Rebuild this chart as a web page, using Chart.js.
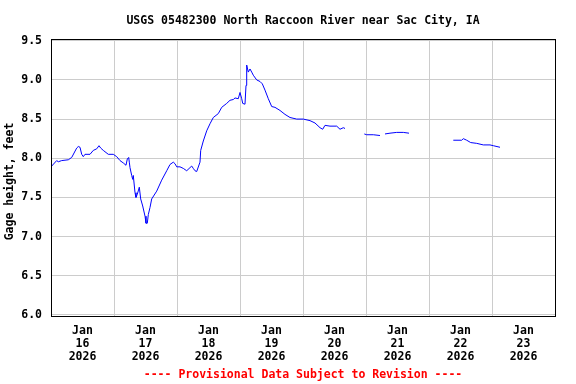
<!DOCTYPE html>
<html>
<head>
<meta charset="utf-8">
<script src="https://cdn.jsdelivr.net/npm/chart.js@4/dist/chart.umd.min.js"></script>
<style>
html,body{margin:0;padding:0;background:#fff;}
canvas{display:block;}
</style>
</head>
<body>
<canvas id="c" width="576" height="384"></canvas>
<script>
// Hours since Jan 16 2026 00:00 (null gage = data gap)
const hours = [
  0.27, 2.17, 2.78, 4.08, 6.59, 7.89, 9.79, 10.4, 11.05, 11.7, 12.3, 12.95, 14.86, 16.11, 17.41, 18.29, 18.93, 19.92,
  21.83, 23.73, 25.03, 26.29, 27.54, 28.57, 29.07, 29.6, 29.83, 30.1, 30.74, 31.12, 31.35, 32.0, 32.38, 32.88, 33.64,
  34.17, 34.93, 35.81, 36.19, 36.69, 37.07, 37.71, 38.36, 40.27, 42.17, 44.08, 45.33, 46.59, 47.24, 47.89, 49.14,
  50.4, 51.7, 52.95, 53.6, 54.21, 54.86, 55.5, 56.76, 57.03, 58.02, 59.31, 60.57, 61.83, 63.73, 65.03, 66.93, 68.19,
  69.45, 70.1, 71.35, 72.0, 72.65, 73.03, 73.9, 74.29, 74.55, 75.16, 75.81, 76.46, 77.07, 78.36, 79.62, 80.5, 81.52,
  82.78, 84.08, 85.33, 87.24, 89.14, 91.05, 93.6, 96.11, 98.67, 100.57, 102.48, 103.5, 104.38, 106.29, 108.84, 110.1,
  111.35, 112.0,
  115.0,
  119.35, 120.27, 122.78, 125.33,
  126.3,
  127.24, 129.14, 131.7, 134.21, 136.38,
  145.0,
  153.26, 156.46, 157.07, 158.36, 159.89, 162.17, 164.69, 167.24, 168.5, 171.05
];
const gage = [
  7.90, 7.97, 7.955, 7.97, 7.98, 8.01, 8.13, 8.15, 8.14, 8.05, 8.02, 8.05, 8.05, 8.10, 8.12, 8.16, 8.13, 8.10,
  8.05, 8.05, 8.02, 7.97, 7.94, 7.91, 7.99, 8.01, 7.95, 7.88, 7.78, 7.73, 7.78, 7.56, 7.50, 7.54, 7.63,
  7.48, 7.39, 7.26, 7.17, 7.17, 7.28, 7.37, 7.48, 7.58, 7.72, 7.84, 7.92, 7.95, 7.93, 7.89, 7.89,
  7.87, 7.84, 7.88, 7.90, 7.87, 7.84, 7.83, 7.95, 8.10, 8.22, 8.35, 8.44, 8.52, 8.57, 8.65, 8.70, 8.74,
  8.75, 8.77, 8.76, 8.84, 8.76, 8.70, 8.69, 8.93, 9.19, 9.10, 9.14, 9.10, 9.06, 9.00, 8.98, 8.95, 8.87,
  8.76, 8.66, 8.65, 8.61, 8.56, 8.52, 8.50, 8.50, 8.48, 8.45, 8.39, 8.37, 8.42, 8.41, 8.41, 8.37,
  8.39, 8.38,
  null,
  8.31, 8.30, 8.30, 8.29,
  null,
  8.31, 8.32, 8.33, 8.33, 8.32,
  null,
  8.23, 8.23, 8.25, 8.23, 8.20, 8.19, 8.17, 8.17, 8.16, 8.14
];
const dayLabels = ['16', '17', '18', '19', '20', '21', '22', '23'];
const monthLabel = 'Jan';
const yearLabel = '2026';
const yTicks = [6.0, 6.5, 7.0, 7.5, 8.0, 8.5, 9.0, 9.5];

const points = hours.map((h, i) => ({ x: h, y: gage[i] }));
const FONT = { family: '"DejaVu Sans Mono", monospace', size: 11.5, weight: 'bold' };

const framePlugin = {
  id: 'frame',
  afterDatasetsDraw(chart) {
    const a = chart.chartArea, ctx = chart.ctx;
    ctx.save();
    ctx.strokeStyle = '#000';
    ctx.lineWidth = 1;
    ctx.strokeRect(Math.round(a.left) + 0.5, Math.round(a.top) - 0.5, Math.round(a.right - a.left), Math.round(a.bottom - a.top) + 1);
    ctx.restore();
  }
};

new Chart(document.getElementById('c'), {
  type: 'line',
  data: {
    datasets: [{
      data: points,
      borderColor: '#0000ff',
      borderWidth: 1,
      pointRadius: 0,
      tension: 0,
      spanGaps: false,
      fill: false
    }]
  },
  options: {
    responsive: false,
    animation: false,
    layout: { padding: { left: 0, right: 21, top: 0, bottom: 0 } },
    plugins: {
      legend: { display: false },
      tooltip: { enabled: false },
      title: {
        display: true,
        fullSize: false,
        text: 'USGS 05482300 North Raccoon River near Sac City, IA',
        color: '#000',
        font: FONT,
        padding: { top: 14.5, bottom: 11.7 }
      },
      subtitle: {
        display: true,
        fullSize: false,
        position: 'bottom',
        text: '---- Provisional Data Subject to Revision ----',
        color: '#ff0000',
        font: FONT,
        padding: { top: 1, bottom: 2 }
      }
    },
    scales: {
      x: {
        type: 'linear',
        min: 0,
        max: 192,
        afterFit(s) { s.height = 51.2; },
        afterBuildTicks(s) {
          const t = [];
          for (let d = 0; d <= 8; d++) {
            t.push({ value: d * 24 });
            if (d < 8) t.push({ value: d * 24 + 12 });
          }
          s.ticks = t;
        },
        grid: {
          drawTicks: false,
          color: (c) => (c.tick && c.tick.value % 24 === 0) ? '#cccccc' : 'rgba(0,0,0,0)',
          lineWidth: 1
        },
        border: { color: '#000', width: 1 },
        ticks: {
          autoSkip: false,
          maxRotation: 0,
          padding: 9,
          color: '#000',
          font: Object.assign({}, FONT, { lineHeight: 13 / 11.5 }),
          callback(v) {
            if (v % 24 === 12) {
              const d = Math.floor(v / 24);
              return [monthLabel, dayLabels[d], yearLabel];
            }
            return '';
          }
        }
      },
      y: {
        min: 5.985,
        max: 9.51,
        afterFit(s) { s.width = 51; },
        afterBuildTicks(s) { s.ticks = yTicks.map(v => ({ value: v })); },
        grid: { drawTicks: false, color: '#cccccc', lineWidth: 1 },
        border: { color: '#000', width: 1 },
        ticks: {
          padding: 9,
          color: '#000',
          font: FONT,
          callback: (v) => v.toFixed(1)
        },
        title: {
          display: true,
          text: 'Gage height, feet ',
          color: '#000',
          font: FONT,
          padding: { top: 3, bottom: 0 }
        }
      }
    }
  },
  plugins: [framePlugin]
});
</script>
</body>
</html>
